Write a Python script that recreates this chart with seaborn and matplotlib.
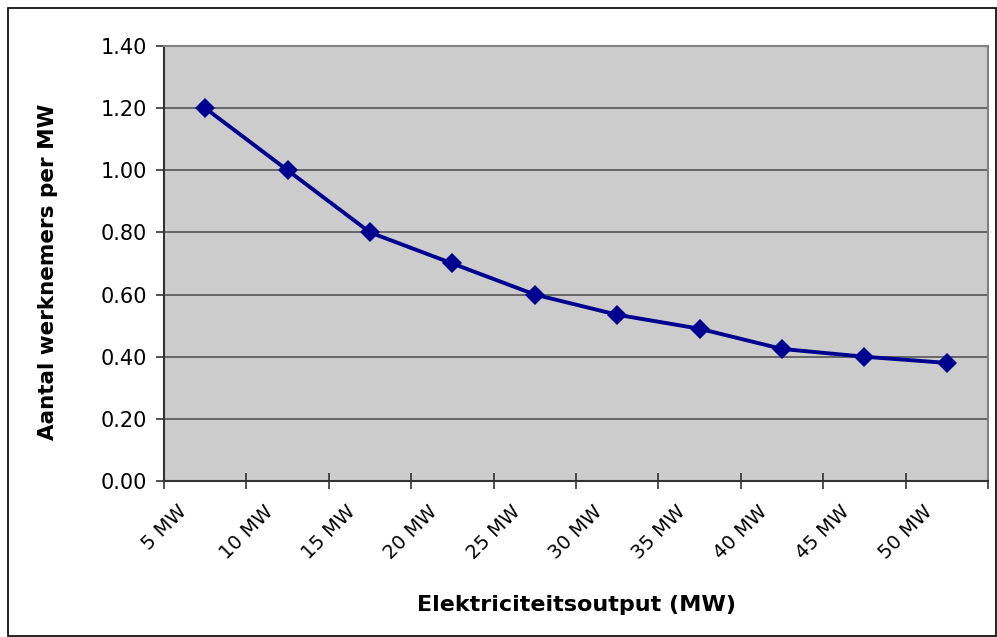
import numpy as np
import pandas as pd
import matplotlib.pyplot as plt
import seaborn as sns
from matplotlib.patches import Rectangle

# Data
categories = ["5 MW", "10 MW", "15 MW", "20 MW", "25 MW",
              "30 MW", "35 MW", "40 MW", "45 MW", "50 MW"]
workers_per_mw = [1.20, 1.00, 0.80, 0.70, 0.60, 0.535, 0.49, 0.425, 0.40, 0.38]

df = pd.DataFrame({"cat": categories, "value": workers_per_mw})
df["pos"] = np.arange(len(df)) + 0.5  # points sit between the tick marks

sns.set_style("white")
plt.rcParams["font.family"] = ["DejaVu Sans"]
plt.rcParams["text.color"] = "black"
plt.rcParams["axes.labelcolor"] = "black"
plt.rcParams["xtick.color"] = "black"
plt.rcParams["ytick.color"] = "black"

fig = plt.figure(figsize=(9.97, 6.37), dpi=100)
ax = fig.add_axes([0.1645, 0.2449, 0.8265, 0.6829])
ax.set_facecolor("#CCCCCC")

sns.lineplot(data=df, x="pos", y="value", ax=ax, color="#000090",
             linewidth=2.8, marker="D", markersize=10, markeredgewidth=0)

ax.set_xlim(0, len(categories))
ax.set_ylim(0, 1.4)
yt = np.arange(0, 1.41, 0.2)
ax.set_yticks(yt)
ax.set_yticklabels([f"{v:.2f}" for v in yt], fontsize=15)
ax.set_xticks(np.arange(len(categories) + 1))
ax.set_xticklabels(categories + [""], rotation=45, ha="center", va="top",
                   fontsize=14)
ax.yaxis.grid(True, color="#555555", linewidth=1.2)
ax.set_axisbelow(True)

ax.tick_params(axis="y", left=True, direction="out", length=6, width=1.2,
               color="#333333", pad=6)
ax.tick_params(axis="x", bottom=True, direction="inout", length=12, width=1.2,
               color="#333333", pad=9)

for side in ["left", "bottom"]:
    ax.spines[side].set_color("#333333")
    ax.spines[side].set_linewidth(1.5)
for side in ["top", "right"]:
    ax.spines[side].set_color("#808080")
    ax.spines[side].set_linewidth(1.5)

ax.set_xlabel("Elektriciteitsoutput (MW)", fontsize=16, fontweight="bold")
ax.set_ylabel("Aantal werknemers per MW", fontsize=15.5, fontweight="bold")
ax.xaxis.set_label_coords(0.5, -0.262)
ax.yaxis.set_label_coords(-0.1285, 0.482)

# outer chart border
fig.patches.append(Rectangle((8 / 997, 0.001), 1 - 8 / 997 - 0.001, 1 - 8 / 637 - 0.001,
                             transform=fig.transFigure, fill=False,
                             edgecolor="black", linewidth=1.2))

fig.savefig("out.png", dpi=100)
